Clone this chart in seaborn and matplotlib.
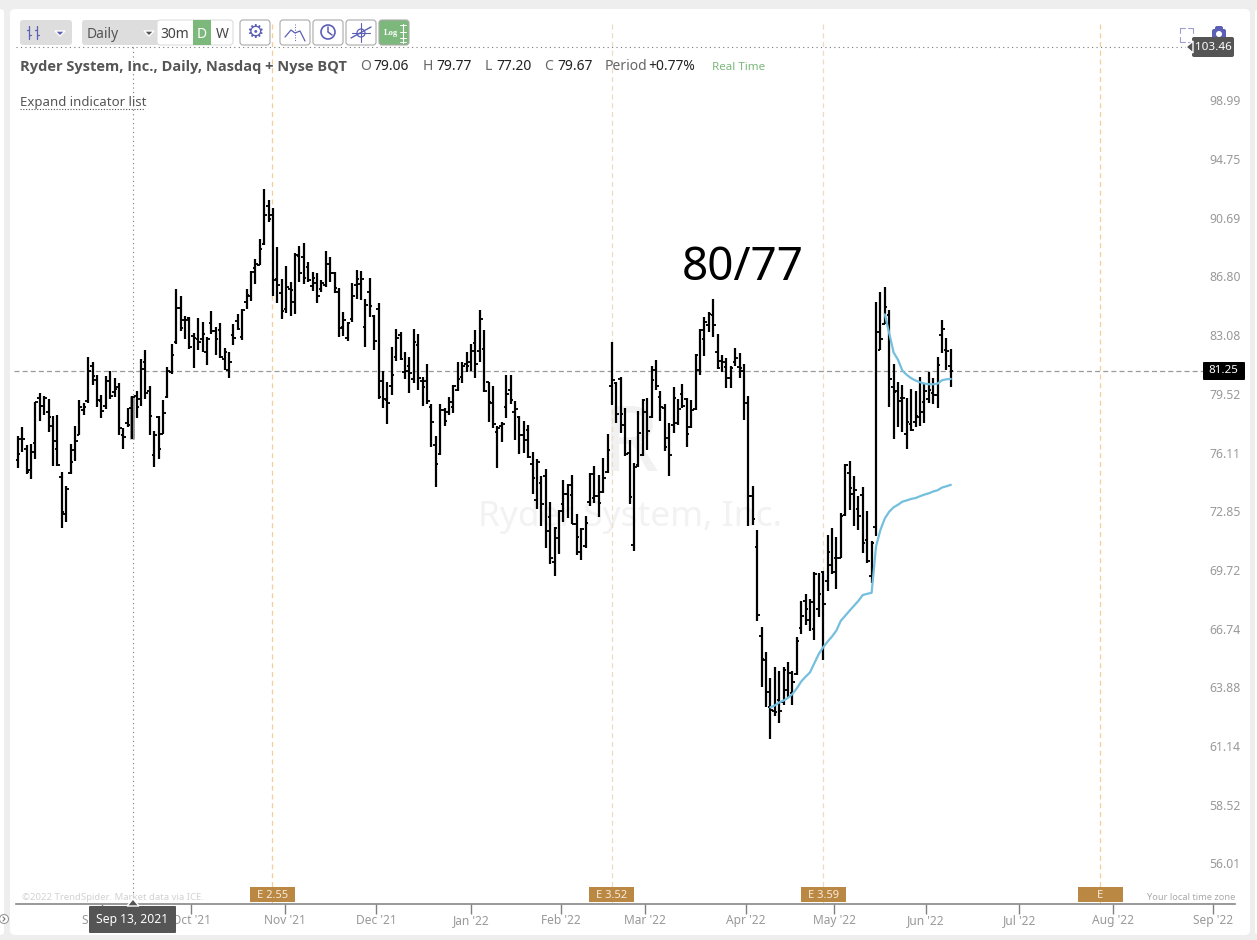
import matplotlib
matplotlib.use("Agg")
import matplotlib.pyplot as plt
import matplotlib.transforms as mtrans
from matplotlib.patches import FancyBboxPatch, Polygon, Circle
import numpy as np
import pandas as pd
import seaborn as sns

high = [77.41,77.93,76.87,76.95,79.41,79.91,79.75,79.57,78.57,78.63,75.34,74.57,76.95,77.99,79.51,79.31,82.11,81.80,80.99,79.81,
        80.95,81.25,80.83,80.53,77.87,79.04,79.77,80.05,81.97,82.54,80.35,77.70,78.57,79.51,81.50,82.91,86.38,85.93,84.66,84.60,
        83.57,84.53,84.28,83.34,84.97,83.97,84.22,82.64,82.42,84.15,84.78,85.10,86.38,87.55,88.34,89.64,93.10,92.30,91.76,89.13,
        87.03,87.88,86.84,88.72,89.20,89.40,88.14,87.49,87.42,86.97,88.87,88.47,87.49,86.45,84.91,84.28,86.77,87.61,87.55,85.72,
        87.10,84.72,85.47,81.27,80.59,82.73,83.84,83.66,82.42,82.11,83.84,83.53,80.89,81.68,79.27,77.41,79.27,79.04,79.69,80.41,
        81.80,81.80,82.42,82.91,83.78,85.03,83.78,80.61,80.35,77.99,78.22,81.01,81.01,79.45,78.57,78.28,78.05,76.47,76.09,75.13,
        75.52,73.68,72.33,73.24,74.91,74.68,75.19,73.03,72.27,72.92,75.30,75.70,75.19,76.15,77.52,83.03,80.57,80.89,79.04,77.18,
        75.85,78.86,79.57,79.63,81.55,81.91,80.05,79.27,78.16,80.29,79.57,80.47,79.63,79.51,82.27,83.84,84.60,84.91,85.72,83.53,
        82.23,82.05,81.55,82.66,82.36,81.68,79.75,74.57,72.16,67.13,65.88,64.62,65.15,64.95,65.15,65.39,64.95,66.62,68.44,68.80,
        68.54,69.93,69.88,69.98,71.89,72.27,71.79,73.06,75.81,75.96,75.13,74.01,74.52,73.19,71.54,85.52,86.17,86.51,85.03,81.68,
        80.59,80.41,79.63,80.17,80.05,80.89,80.47,81.19,80.83,82.11,84.41,83.28,82.60]
low = [75.56,76.51,75.26,74.93,76.11,78.30,78.65,77.66,75.71,75.67,72.24,72.61,75.26,75.96,77.43,78.65,79.35,80.43,79.11,78.42,
       79.00,79.59,79.69,77.47,76.68,77.91,77.20,78.42,79.15,79.59,77.43,75.65,76.11,77.49,79.65,81.09,82.93,83.74,83.24,82.62,
       81.45,82.54,82.38,81.64,83.55,82.25,82.05,81.33,80.85,82.87,83.76,83.12,85.12,85.63,86.73,87.92,89.29,90.84,85.95,85.49,
       84.47,84.85,84.66,84.78,86.84,86.71,86.84,86.25,85.47,86.19,86.51,86.84,86.12,83.34,83.40,83.10,84.28,85.72,85.66,82.73,
       84.60,82.54,79.57,79.04,78.10,79.81,81.85,81.91,80.77,79.93,80.53,80.11,79.15,79.27,76.78,74.52,76.32,77.99,78.63,78.75,
       80.05,80.53,81.19,81.25,80.83,81.82,79.99,78.24,77.87,75.56,77.06,78.45,79.27,77.18,76.38,76.44,76.15,74.13,73.30,72.38,
       71.20,70.35,69.72,70.88,72.60,72.81,72.49,70.83,70.58,71.20,73.46,73.62,72.87,74.18,75.30,79.21,78.16,77.58,76.26,73.57,
       71.04,75.64,76.26,76.61,78.45,80.11,78.28,76.55,75.13,77.58,78.05,79.04,76.78,77.85,78.92,81.01,82.17,83.66,83.34,81.37,
       81.19,80.23,80.23,81.55,80.83,78.34,72.38,72.43,67.43,64.19,63.23,61.74,62.81,62.48,63.33,63.71,63.33,64.75,66.76,67.23,
       66.92,66.47,67.63,65.49,68.92,69.83,69.06,70.65,72.92,73.24,72.38,72.16,70.93,70.40,69.38,71.84,82.52,84.12,79.09,77.23,
       77.93,77.64,76.66,77.70,77.93,77.99,78.16,79.33,79.27,79.04,82.36,81.31,80.29]
open_ = [76.00,77.25,76.63,75.48,76.97,79.65,79.15,78.82,77.99,76.68,75.09,73.05,75.30,76.57,77.47,78.92,79.43,81.55,80.71,79.47,
         79.15,80.63,79.99,80.31,77.45,78.16,79.06,79.75,79.57,81.80,80.05,76.32,78.49,77.54,79.71,81.21,83.03,85.18,84.41,84.55,
         83.43,83.22,83.22,82.42,84.22,83.74,83.78,81.97,81.31,83.49,84.34,83.34,85.54,85.95,87.75,87.97,89.33,91.90,91.31,87.05,
         86.15,85.12,86.40,85.54,88.54,88.47,87.81,86.58,86.77,86.38,86.64,88.01,87.42,86.19,83.97,83.28,84.45,86.62,86.71,83.97,
         86.19,84.64,85.12,80.65,79.51,80.35,82.11,83.47,81.19,81.55,80.77,82.85,80.65,80.65,79.09,76.89,76.38,78.92,78.80,79.09,
         80.11,80.89,81.68,81.80,82.95,82.48,82.60,80.61,79.31,77.64,77.99,79.09,80.11,78.80,78.51,77.46,77.76,75.81,73.79,74.74,
         75.13,72.87,70.46,71.73,73.57,74.13,74.07,72.49,71.00,71.31,73.68,73.90,74.01,74.24,75.35,80.35,80.51,80.77,78.05,76.44,
         71.36,75.76,76.32,78.80,78.51,81.31,79.69,79.04,77.29,78.05,78.16,79.87,79.57,77.93,78.98,81.31,83.22,84.09,84.72,82.42,
         81.84,81.50,80.83,81.80,81.50,81.25,79.33,74.01,71.25,66.67,65.49,63.23,63.04,63.57,63.47,64.04,63.90,64.80,67.05,68.44,
         67.48,67.03,68.03,69.93,69.47,70.29,70.67,70.69,72.97,75.32,74.13,73.30,74.07,71.63,69.72,72.33,82.56,84.18,84.72,80.29,
         80.05,79.63,77.52,78.10,78.22,78.53,79.39,79.57,79.93,79.81,83.47,82.54,81.55]
close = [76.38,77.25,75.35,76.51,79.41,79.15,79.63,78.53,77.12,75.76,73.15,74.42,75.89,77.14,79.09,79.11,81.27,80.97,79.51,78.86,
         80.63,79.75,80.15,77.89,77.37,78.05,79.67,79.09,81.39,79.95,78.57,77.47,76.68,78.77,81.23,82.25,85.18,83.90,84.41,82.73,
         83.30,83.03,83.53,83.20,83.72,83.22,82.11,82.42,81.82,83.30,83.84,85.01,85.99,87.46,87.99,89.00,91.31,91.00,86.99,86.64,
         84.97,86.51,86.32,88.58,87.42,87.10,86.97,87.10,85.93,86.77,88.01,87.42,86.45,83.90,84.41,84.20,85.93,87.05,87.05,85.35,
         85.29,83.10,79.69,79.57,79.33,81.01,83.28,81.97,81.25,81.13,83.03,80.83,80.29,79.45,78.22,75.81,78.92,78.28,79.41,80.35,
         80.77,81.55,81.55,82.48,81.68,84.47,80.05,79.39,78.10,77.85,78.10,79.87,79.51,78.98,77.46,77.18,76.21,75.02,75.92,73.57,
         72.11,70.67,72.27,73.19,74.13,74.63,72.49,71.79,72.22,72.56,75.24,74.01,73.62,75.02,76.61,80.71,78.69,78.69,76.38,73.96,
         75.64,77.58,79.51,77.70,80.71,80.35,79.09,76.78,76.32,79.63,78.98,79.15,77.52,78.92,82.21,83.78,84.28,84.78,84.09,81.43,
         81.80,80.83,81.43,82.05,81.43,79.33,74.03,72.76,67.73,65.54,63.95,63.09,62.99,63.04,65.00,64.85,64.42,66.43,67.68,68.03,
         68.39,69.83,68.80,68.30,71.00,69.93,70.67,72.92,75.77,74.46,74.35,72.92,71.47,70.51,71.48,83.66,83.22,85.22,80.77,79.99,
         79.45,79.63,78.22,77.76,78.57,78.80,80.05,80.11,79.81,81.61,83.84,82.48,81.25]

vwap_low = [63.21,63.30,63.44,63.53,63.66,63.84,64.11,64.44,64.67,64.88,65.33,65.78,66.11,66.39,66.64,66.94,
            67.43,67.68,67.94,68.19,68.44,68.74,68.80,68.85,71.27,72.16,72.78,73.15,73.39,73.53,73.70,73.77,
            73.85,73.90,74.00,74.09,74.16,74.26,74.33,74.48,74.55,74.63]
vwap_high = [84.76,83.57,82.38,81.93,81.27,81.01,80.81,80.67,80.57,80.49,80.45,80.45,80.49,80.69,80.75,80.77]
vwap_low_start = 171
vwap_high_start = 197

earn_bar = [57.8, 135.0, 182.9, 245.9]
earn_text = ["E 2.55", "E 3.52", "E 3.59", "E"]
price_ticks = [98.99, 94.75, 90.69, 86.80, 83.08, 79.52, 76.11, 72.85, 69.72, 66.74, 63.88, 61.14, 58.52, 56.01]
month_labels = ["Sep '21", "Oct '21", "Nov '21", "Dec '21", "Jan '22", "Feb '22", "Mar '22", "Apr '22", "May '22",
                "Jun '22", "Jul '22", "Aug '22", "Sep '22"]
month_bar = [19.15, 39.46, 60.7, 81.4, 103.0, 123.4, 142.5, 165.4, 185.5, 206.3, 227.6, 248.8, 271.5]
hover_bar = 26
price_min, price_max = 54.58, 105.27
bar_min, bar_max = -0.386, 276.56

sns.set_theme(style="white")
plt.rcParams["font.family"] = ["Noto Sans", "DejaVu Sans"]

W, H = 1257, 940
fig = plt.figure(figsize=(W / 100, H / 100), dpi=100, facecolor="#eeeeee")

PURPLE = "#5b5fb5"
GREEN = "#7cb87c"
TICK = "#999999"
BROWN = "#bb8844"


def px_axes(z):
    a = fig.add_axes([0, 0, 1, 1], zorder=z, facecolor="none")
    a.set_xlim(0, W)
    a.set_ylim(H, 0)
    a.axis("off")
    return a


def box(a, x0, y0, x1, y1, fc="white", ec="none", r=3, lw=0.8, z=2):
    a.add_patch(FancyBboxPatch((x0, y0), x1 - x0, y1 - y0, boxstyle=f"round,pad=0,rounding_size={r}",
                               fc=fc, ec=ec, lw=lw, zorder=z))


# background layer -------------------------------------------------------
bg = px_axes(0)
box(bg, -10, 9, 4, 935, r=4)
box(bg, 10, 9, 1250, 935, r=5)
box(bg, 1255, 9, 1270, 935, r=4)
bg.plot([16, 1186], [47, 47], color="#777777", lw=0.8, ls=(0, (1, 3)))
bg.plot([133, 133], [47, 904], color="#777777", lw=0.8, ls=(0, (1, 3)))
bg.plot([14, 1205], [371, 371], color="#999999", lw=0.9, ls=(0, (4, 2.5)))
bg.text(630, 517, "Ryder System, Inc.", color="#f2f2f2", fontsize=25.4, ha="center", va="center", fontweight="light")
bg.text(630, 447, "R", color="#f1f1f1", fontsize=66, ha="center", va="center", fontweight="bold")

# main price axes --------------------------------------------------------
ax = fig.add_axes([16 / W, 1 - 904 / H, 1219 / W, 880 / H], zorder=1, facecolor="none")
ax.set_yscale("log")
idx = np.arange(len(high))
ax.vlines(earn_bar, price_min, [price_max] * 4, colors=["#f6cd92", "#ecdcc4", "#ecdcc4", "#f6cd92"],
          lw=0.9, ls=(0, (4, 3)), zorder=1)
ax.vlines(hover_bar, low[hover_bar], high[hover_bar], color="#a0a0a0", lw=3.6, zorder=2)
ax.vlines(idx, low, high, color="black", lw=1.6, zorder=3)
ax.hlines(open_, idx - 0.6, idx, color="black", lw=1.35, zorder=3)
ax.hlines(close, idx, idx + 0.6, color="black", lw=1.35, zorder=3)

frame_low = pd.DataFrame({"bar": np.arange(len(vwap_low)) + vwap_low_start, "price": vwap_low})
frame_high = pd.DataFrame({"bar": np.arange(len(vwap_high)) + vwap_high_start, "price": vwap_high})
sns.lineplot(data=frame_low, x="bar", y="price", color="#74bfdd", lw=1.6, ax=ax, zorder=4, estimator=None)
sns.lineplot(data=frame_high, x="bar", y="price", color="#74bfdd", lw=1.6, ax=ax, zorder=4, estimator=None)

ax.set_xlim(bar_min, bar_max)
ax.set_ylim(price_min, price_max)
ax.set_xlabel("")
ax.set_ylabel("")
for s in ["top", "left", "right"]:
    ax.spines[s].set_visible(False)
ax.spines["bottom"].set_color("#888888")
ax.spines["bottom"].set_linewidth(1.2)
ax.set_xticks(month_bar)
ax.set_xticklabels(month_labels)
ax.tick_params(axis="x", which="major", bottom=True, direction="out", length=7, width=1.0, color="#808080",
               labelcolor=TICK, labelsize=8.6, pad=0.5)
ax.set_yticks(price_ticks)
ax.set_yticklabels([f"{p:.2f}" for p in price_ticks])
ax.minorticks_off()
ax.tick_params(axis="y", which="both", left=False, right=False, labelleft=False, labelright=True,
               labelcolor=TICK, labelsize=8.8, pad=-24.5)
shift = mtrans.ScaledTranslation(0, -2 / 100, fig.dpi_scale_trans)
for tick in ax.yaxis.get_major_ticks():
    tick.label2.set_va("bottom")
    tick.label2.set_transform(tick.label2.get_transform() + shift)

# interface layer --------------------------------------------------------
ui = px_axes(2)
box(ui, 20, 20, 72, 45, fc="#dddddd")
for xx in (29, 37):
    ui.plot([xx, xx], [26, 39], color=PURPLE, lw=0.9)
    ui.plot([xx - 2, xx], [30, 30], color=PURPLE, lw=0.9)
    ui.plot([xx, xx + 2], [35, 35], color=PURPLE, lw=0.9)
ui.add_patch(Polygon([[55, 31], [65, 31], [60, 36]], fc=PURPLE, zorder=3))
box(ui, 82, 20, 160, 45, fc="#dddddd")
ui.text(87, 34, "Daily", color="#555555", fontsize=10, va="center")
ui.add_patch(Polygon([[144, 31], [154, 31], [149, 36]], fc="#555555", zorder=3))
box(ui, 157, 20, 233, 45, fc="white", ec="#dddddd")
ui.text(175, 34, "30m", color="#444444", fontsize=10, ha="center", va="center", zorder=4)
box(ui, 193, 20, 211, 45, fc=GREEN, r=0, z=3)
ui.text(202, 34, "D", color="white", fontsize=10, ha="center", va="center", zorder=4)
ui.text(222, 34, "W", color="#444444", fontsize=10, ha="center", va="center", zorder=4)
box(ui, 240, 20, 270, 45, ec="#aaaaaa")
ui.text(255, 32, "\u2699", color=PURPLE, fontsize=14, ha="center", va="center", zorder=4, family="DejaVu Sans",
        fontweight="bold")
for x0 in (280, 313, 346):
    box(ui, x0, 20, x0 + 30, 45, ec="#aaaaaa")
ui.plot([285, 291, 295, 300, 305], [37, 30, 33, 31, 41], color=PURPLE, lw=0.9, zorder=4)
ui.plot([295, 295], [24, 42], color=PURPLE, lw=0.7, ls=":", zorder=4)
ui.add_patch(Circle((328, 32), 7, fc="white", ec=PURPLE, lw=1.2, zorder=4))
ui.plot([328, 328, 332], [27, 32, 35], color=PURPLE, lw=1.1, zorder=5)
ui.plot([351, 371], [38, 27], color=PURPLE, lw=1.0, zorder=4)
ui.plot([361, 361], [23, 42], color=PURPLE, lw=0.8, zorder=4)
ui.plot([352, 370], [33, 33], color=PURPLE, lw=0.8, zorder=4)
ui.add_patch(Circle((361, 33), 4, fc="none", ec=PURPLE, lw=0.9, zorder=4))
box(ui, 379, 20, 409, 45, fc=GREEN, ec="#aaaaaa")
ui.text(391, 33, "Log", color="white", fontsize=6, ha="center", va="center", family="Liberation Serif",
        fontweight="bold", zorder=4)
ui.plot([403, 403], [24, 43], color="white", lw=0.8, zorder=4)
for yy in (25, 32, 38, 42):
    ui.plot([400, 406], [yy, yy], color="white", lw=0.7, zorder=4)

ui.text(20, 66.5, "Ryder System, Inc., Daily, Nasdaq + Nyse BQT", color="#555555", fontsize=10.5,
        fontweight="bold", va="center", family="Open Sans")
for x0, t, c in [(360, "O", "#666666"), (373, "79.06", "#222222"), (423, "H", "#666666"), (436, "79.77", "#222222"),
                 (485, "L", "#666666"), (496, "77.20", "#222222"), (544, "C", "#666666"), (557, "79.67", "#222222"),
                 (605, "Period", "#666666"), (648, "+0.77%", "#222222")]:
    ui.text(x0, 67, t, color=c, fontsize=10, va="center")
ui.text(712, 68, "Real Time", color=GREEN, fontsize=8.4, va="center")
ui.text(20, 102.5, "Expand indicator list", color="#555555", fontsize=9.5, va="center")
ui.plot([20, 145], [109, 109], color="#555555", lw=0.8, ls=(0, (1, 1.5)))
ui.text(743, 268, "80/77", color="black", fontsize=33, ha="center", va="center")

# top-right controls
for (xa, ya, xb, yb, xc, yc) in [(1180, 33, 1180, 28, 1185, 28), (1188, 28, 1193, 28, 1193, 33),
                                 (1180, 37, 1180, 42, 1185, 42), (1188, 42, 1193, 42, 1193, 37)]:
    ui.plot([xa, xb, xc], [ya, yb, yc], color="#9c9fd6", lw=0.8)
box(ui, 1212, 29, 1226, 42, fc=PURPLE, r=2)
box(ui, 1215, 26, 1223, 31, fc=PURPLE, r=2)
ui.add_patch(Circle((1219, 34), 3, fc="white", ec="none", zorder=4))
box(ui, 1192, 37, 1234, 57, fc="#555555", r=2, z=5)
ui.add_patch(Polygon([[1186, 47], [1193, 41], [1193, 53]], fc="#555555", zorder=5))
ui.text(1213, 47, "103.46", color="white", fontsize=8.4, ha="center", va="center", zorder=6)
box(ui, 1203, 362, 1245, 380, fc="black", r=1, z=5)
ui.text(1223, 370.5, "81.25", color="white", fontsize=8.4, ha="center", va="center", zorder=6)

# earnings flags and footer
for xc, t in zip([272.5, 611.5, 823.5, 1100.5], earn_text):
    box(ui, xc - 22.5, 887, xc + 22.5, 902, fc=BROWN, r=0)
    ui.text(xc, 895, t, color="#f6ecdc", fontsize=8, ha="center", va="center", zorder=4)
ui.text(22, 898, "\u00a92022 TrendSpider. Market data via ICE.", color="#d2d2d2", fontsize=6.9, va="center")
ui.text(1235, 897, "Your local time zone", color="#aaaaaa", fontsize=6.7, ha="right", va="center")
ui.add_patch(Circle((4, 919), 4.5, fc="white", ec="#999999", lw=0.8, zorder=3))
ui.plot([3, 5, 3], [917, 919, 921], color="#777777", lw=0.8, zorder=4)

box(ui, 89, 906, 176, 933, fc="#555555", r=1, z=5)
ui.add_patch(Polygon([[133, 899], [127, 906], [139, 906]], fc="#555555", zorder=5))
ui.text(132.5, 919.5, "Sep 13, 2021", color="white", fontsize=8.8, ha="center", va="center", zorder=6)

fig.savefig("out.png", dpi=100, facecolor=fig.get_facecolor())
